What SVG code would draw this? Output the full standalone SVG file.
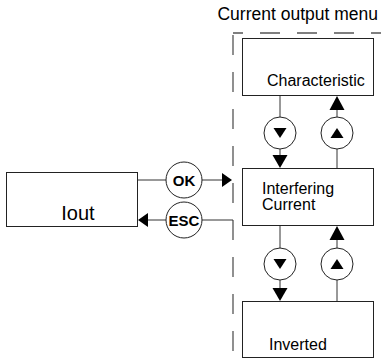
<svg xmlns="http://www.w3.org/2000/svg" width="381" height="364" viewBox="0 0 381 364">
<style>
.box{fill:#fff;stroke:#222;stroke-width:1}
.ln{stroke:#333;stroke-width:1;fill:none}
.cir{fill:#fff;stroke:#222;stroke-width:1}
.tri{fill:#000}
.lbl{font-family:"Liberation Sans",Arial,sans-serif;font-size:16px;fill:#000}
.btn{font-family:"Liberation Sans",Arial,sans-serif;font-size:15px;font-weight:bold;fill:#000;text-anchor:middle}
.dash{stroke:#555;stroke-width:1.3;fill:none;stroke-dasharray:20 17}
</style>
<text x="378" y="20" class="lbl" style="font-size:17.5px" text-anchor="end">Current output menu</text>
<line class="dash" x1="233" y1="33" x2="381" y2="33" stroke-dashoffset="10"/>
<line class="dash" x1="233" y1="33" x2="233" y2="364" stroke-dashoffset="-2"/>
<g id="connectors">
<path class="ln" d="M138,180H166M202,180H222"/>
<polygon class="tri" points="222,173 232,180 222,187"/>
<path class="ln" d="M233,220H202M166,220H148"/>
<polygon class="tri" points="148,213 138,220 148,227"/>
<path class="ln" d="M280,96V117M280,149V155"/>
<polygon class="tri" points="272.5,155 287.5,155 280,168"/>
<path class="ln" d="M337,168V149M337,117V110"/>
<polygon class="tri" points="329.5,110 344.5,110 337,96"/>
<path class="ln" d="M280,226V248M280,280V288"/>
<polygon class="tri" points="272.5,288 287.5,288 280,301"/>
<path class="ln" d="M337,301V280M337,248V240"/>
<polygon class="tri" points="329.5,240 344.5,240 337,226"/>
</g>
<g id="iout"><rect class="box" x="6.5" y="172.5" width="131" height="54"/><text x="78" y="220" class="lbl" style="font-size:20px" text-anchor="middle">Iout</text></g>
<g id="ok"><circle class="cir" cx="184" cy="180" r="18"/><text x="184" y="185.5" class="btn">OK</text></g>
<g id="esc"><circle class="cir" cx="184" cy="220" r="18"/><text x="184" y="225.5" class="btn">ESC</text></g>
<g id="characteristic"><rect class="box" x="242.5" y="38.5" width="131" height="57"/><text x="267" y="86" class="lbl">Characteristic</text></g>
<g id="interfering"><rect class="box" x="242.5" y="168.5" width="131" height="57"/><text x="262" y="194" class="lbl">Interfering</text><text x="262" y="210" class="lbl">Current</text></g>
<g id="inverted"><rect class="box" x="242.5" y="301.5" width="131" height="56"/><text x="269" y="350" class="lbl">Inverted</text></g>
<g id="down1"><circle class="cir" cx="280" cy="133" r="16"/><polygon class="tri" points="273.5,128 286.5,128 280,138"/></g>
<g id="up1"><circle class="cir" cx="337" cy="133" r="16"/><polygon class="tri" points="330.5,138 343.5,138 337,128"/></g>
<g id="down2"><circle class="cir" cx="280" cy="264" r="16"/><polygon class="tri" points="273.5,259 286.5,259 280,269"/></g>
<g id="up2"><circle class="cir" cx="337" cy="264" r="16"/><polygon class="tri" points="330.5,269 343.5,269 337,259"/></g>
</svg>
